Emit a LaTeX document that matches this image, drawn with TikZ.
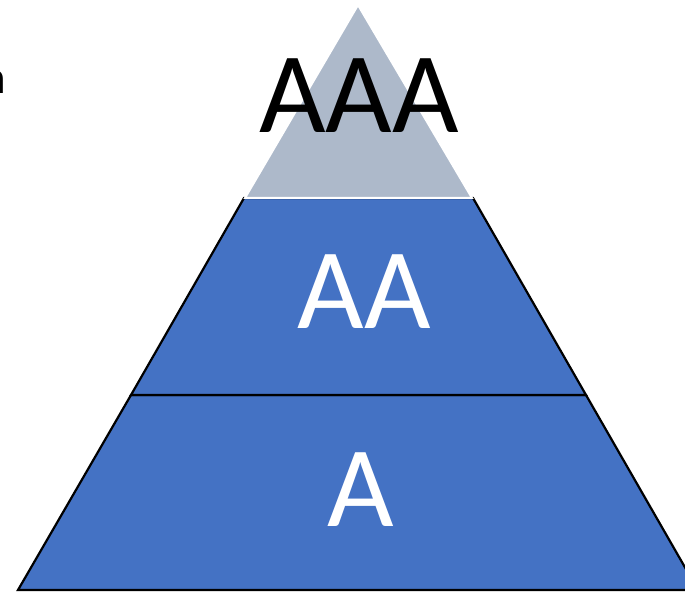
\documentclass[tikz,border=0pt]{standalone}
\usepackage{fontspec}
\setmainfont{Carlito}
\definecolor{topgray}{HTML}{ADB9CA}
\definecolor{tierblue}{HTML}{4472C4}
\begin{document}
\begin{tikzpicture}[x=1pt,y=1pt,
  tier/.style={fill=tierblue,draw=black,line width=2.2pt,line join=miter},
  toptier/.style={fill=topgray,draw=white,line width=2pt},
  bigtext/.style={font=\fontsize{115}{115}\selectfont,inner sep=0pt,anchor=base},
  sidetext/.style={font=\fontsize{47}{47}\selectfont,inner sep=0pt,anchor=base east}]
\useasboundingbox (0,0) rectangle (685,592);
\clip (0,0) rectangle (685,592);
\draw[tier] (18,2) -- (698,2) -- (586,197) -- (131,197) -- cycle;
\draw[tier] (131,197) -- (586,197) -- (473,394) -- (244,394) -- cycle;
\draw[toptier] (245,394) -- (472,394) -- (358,587) -- cycle;
\node[bigtext,text=black] (t3) at (359,459) {AAA};
\node[bigtext,text=white] (t2) at (364,263) {AA};
\node[bigtext,text=white] (t1) at (361,66) {A};
\node[sidetext,text=black] (side) at (6.5,498) {n};
\end{tikzpicture}
\end{document}
